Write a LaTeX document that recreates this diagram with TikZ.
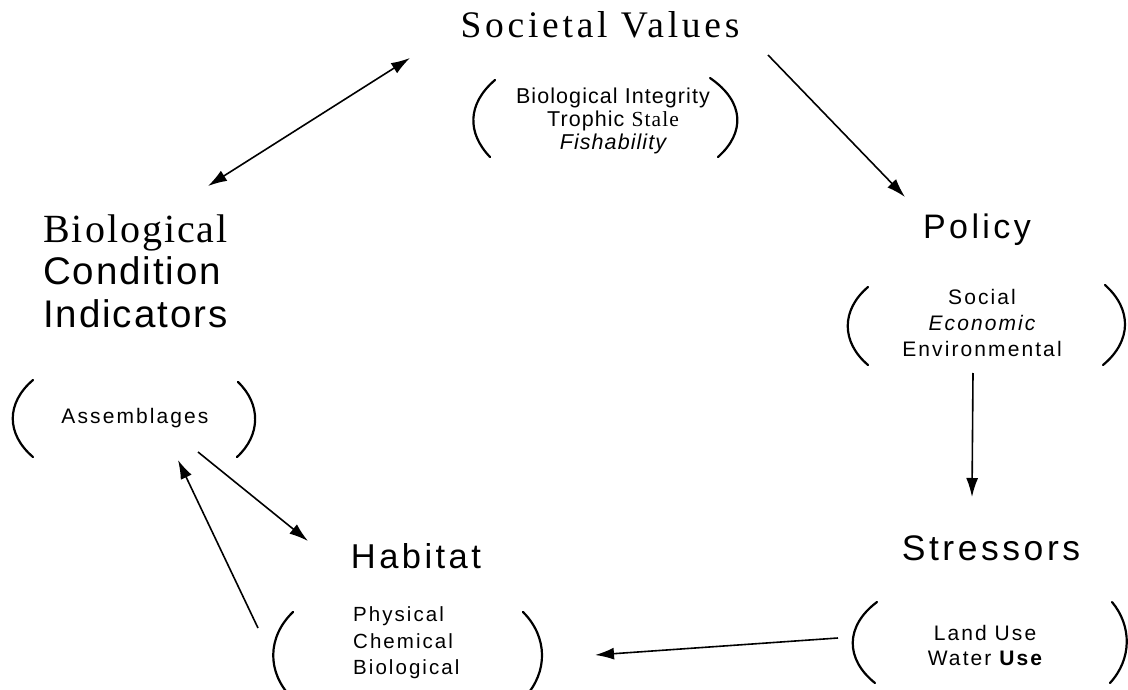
\documentclass[tikz,border=0pt]{standalone}
\usepackage{fontspec}
\setmainfont[LetterSpace=10]{Liberation Sans}
\newfontfamily\sanstight[LetterSpace=5]{Liberation Sans}
\newfontfamily\serifwide[LetterSpace=10]{Liberation Serif}
\newfontfamily\seriftight[LetterSpace=5]{Liberation Serif}
\usetikzlibrary{arrows.meta}

\begin{document}
\begin{tikzpicture}[x=1pt, y=-1pt, >={Latex[length=19pt,width=12pt]},
    head/.style={inner sep=0pt, anchor=base},
    group/.style={inner sep=0pt, align=center},
    paren/.style={line width=2.2pt, line cap=round},
    link/.style={line width=1.6pt}]

  \useasboundingbox (0,0) rectangle (1128,690);

  % headings
  \node [head, font=\serifwide\fontsize{37.5}{40}\selectfont] (sv) at (600 , 38) {Societal Values};
  \node [head, font=\fontsize{34}{40}\selectfont] (pol) at (977 , 238) {Policy};
  \node [head, font=\fontsize{35.5}{40}\selectfont] (str) at (991 , 560) {Stressors};
  \node [head, font=\fontsize{34.5}{40}\selectfont] (hab) at (416 , 568) {Habitat};
  \node [group, align=left, anchor=west, font=\sanstight\fontsize{38.5}{42.5}\selectfont] (bci) at (43 , 271)
    {{\seriftight\fontsize{40}{42.5}\selectfont Biological}\\Condition\\Indicators};

  % contents
  \node [group, font=\sanstight\fontsize{21.5}{23}\selectfont] (svlist) at (613 , 121)
    {Biological Integrity\\Trophic {\seriftight Stale}\\{\itshape Fishability}};
  \node [group, font=\fontsize{21}{26}\selectfont] (pollist) at (982 , 323)
    {Social\\{\itshape Economic}\\Environmental};
  \node [group, font=\fontsize{21}{25}\selectfont] (strlist) at (985 , 645)
    {Land Use\\Water {\bfseries Use}};
  \node [group, align=left, anchor=west, font=\fontsize{20.5}{26.5}\selectfont] (hablist) at (353 , 643)
    {Physical\\Chemical\\Biological};
  \node [head, font=\fontsize{21}{24}\selectfont] (bcilist) at (135 , 423) {Assemblages};

  % brackets
  \draw [paren] (495,80) .. controls (467,104) and (467,133) .. (490,157);
  \draw [paren] (710,78) .. controls (745,102) and (745,133) .. (718,157);
  \draw [paren] (33,380) .. controls (6,403) and (6,434) .. (33,457);
  \draw [paren] (238,382) .. controls (261,404) and (261,435) .. (237,457);
  \draw [paren] (868,287) .. controls (841,310) and (841,342) .. (868,365);
  \draw [paren] (1105,285) .. controls (1132,309) and (1132,341) .. (1103,365);
  \draw [paren] (877,602) .. controls (845,626) and (845,659) .. (875,683);
  \draw [paren] (1112,602) .. controls (1132,626) and (1132,659) .. (1110,683);
  \draw [paren] (293,612) .. controls (267,637) and (267,672) .. (291,697);
  \draw [paren] (523,612) .. controls (548,637) and (548,672) .. (525,697);

  % arrow ends
  \coordinate (sv-w) at (410 , 58);
  \coordinate (sv-e) at (768 , 55);
  \coordinate (bci-n) at (208 , 186);
  \coordinate (pol-n) at (905 , 197);
  \coordinate (pol-s) at (973 , 373);
  \coordinate (str-n) at (972 , 497);
  \coordinate (str-w) at (838 , 638);
  \coordinate (hab-e) at (595 , 655);
  \coordinate (hab-n) at (308 , 541);
  \coordinate (hab-w) at (258 , 628);
  \coordinate (bci-out) at (198 , 452);
  \coordinate (bci-in) at (178 , 460);

 \path[link]
      (bci-n) edge[<->] (sv-w)
      (sv-e) edge[->] (pol-n)
      (pol-s) edge[->] (str-n)
      (str-w) edge[->] (hab-e)
      (bci-out) edge[->] (hab-n)
      (hab-w) edge[->] (bci-in);
\end{tikzpicture}
\end{document}
